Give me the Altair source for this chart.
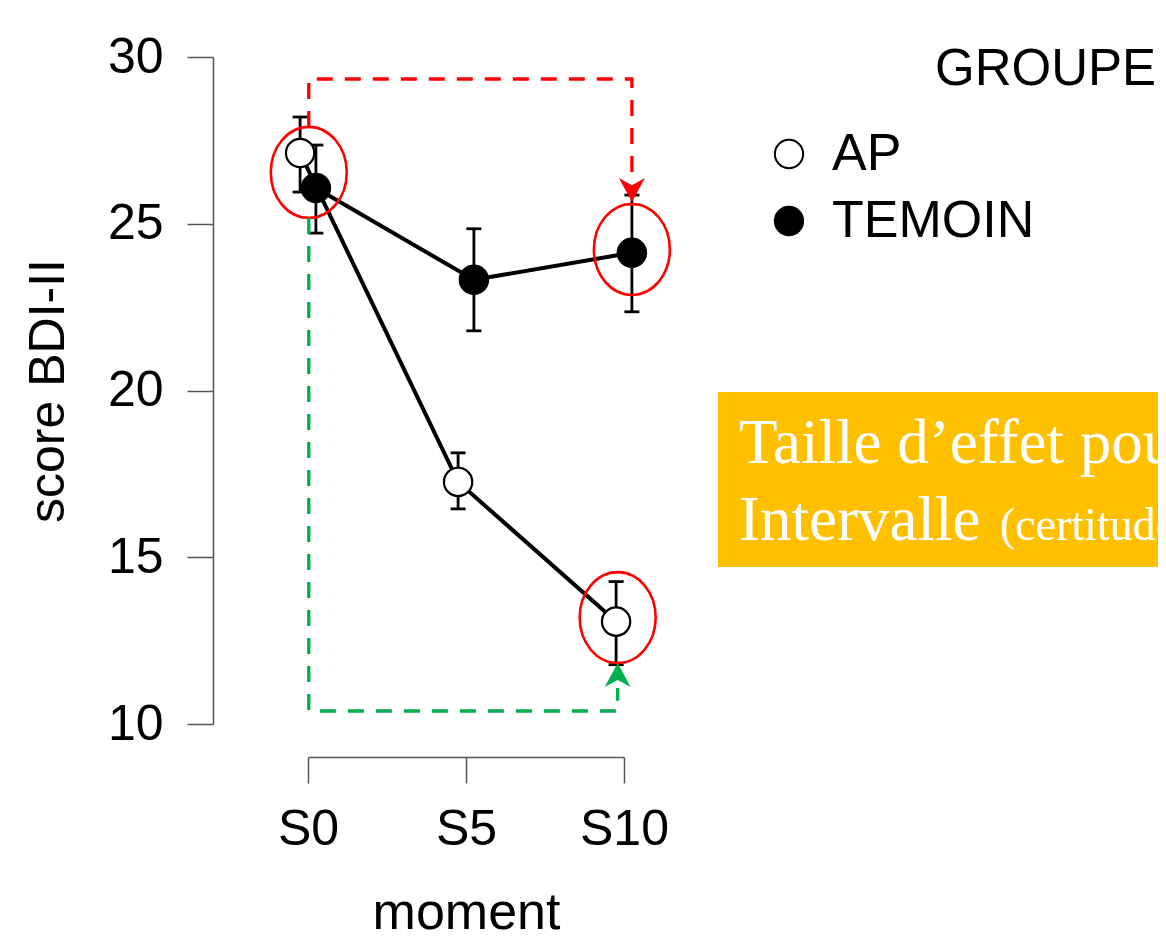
import json
import altair as alt
import pandas as pd

# ---------------- data ----------------
moments = ["S0", "S5", "S10"]
groups = ["AP", "TEMOIN"]
ap_mean = [27.12, 17.26, 13.07]
ap_low = [25.95, 16.45, 11.78]
ap_high = [28.20, 18.13, 14.27]
tem_mean = [26.07, 23.32, 24.13]
tem_low = [24.72, 21.79, 22.36]
tem_high = [27.36, 24.85, 25.86]
group_dodge = [-0.05, 0.05]
y_ticks = [10, 15, 20, 25, 30]

# annotations (data coordinates)
ellipse_x = [0.005, 2.05, 1.96]
ellipse_y = [26.54, 24.23, 13.19]
red_x = [0.005, 0.005, 2.05, 2.05]
red_y = [27.90, 29.34, 29.34, 26.37]
green_x = [0.005, 0.005, 1.96, 1.96]
green_y = [25.17, 10.39, 10.39, 11.08]
arrow_red = (2.05, 26.04)
arrow_green = (1.96, 11.44)

legend_title = "GROUPE"
box_line1 = "Taille d’effet pou"
box_line2a = "Intervalle"
box_line2b = "(certitude"

# ---------------- tables ----------------
rows = []
for g, d, means, lows, highs in [
    (groups[0], group_dodge[0], ap_mean, ap_low, ap_high),
    (groups[1], group_dodge[1], tem_mean, tem_low, tem_high),
]:
    for i, m in enumerate(moments):
        rows.append({"group": g, "moment": m, "x": i + d,
                     "y": means[i], "y2": lows[i], "hi": highs[i]})
df = pd.DataFrame(rows)
caps = pd.concat([
    df[["group", "x", "y2"]].rename(columns={"y2": "y"}),
    df[["group", "x", "hi"]].rename(columns={"hi": "y"}),
])
bars = df.rename(columns={"y": "mean", "y2": "y"}).assign(y2=df["hi"])

ell = pd.DataFrame({"x": ellipse_x, "y": ellipse_y})
red = pd.DataFrame({"x": red_x, "y": red_y, "o": range(len(red_x))})
green = pd.DataFrame({"x": green_x, "y": green_y, "o": range(len(green_x))})

FONT = "Liberation Sans"
AXC = "#555555"

x_axis = alt.Axis(
    values=[0, 1, 2], labelExpr=f"{json.dumps(moments)}[datum.value]",
    title="moment", offset=33, tickSize=26, labelPadding=21,
    labelFontSize=50, titleFontSize=52, titlePadding=33,
    labelFont=FONT, titleFont=FONT, titleFontWeight="normal",
    labelColor="black", titleColor="black", domainColor=AXC, tickColor=AXC,
    domainWidth=1.5, tickWidth=1.5, grid=False, labelFlush=False,
    labelOverlap=False,
)
y_axis = alt.Axis(
    values=y_ticks, title="score BDI-II", offset=95, tickSize=26,
    labelPadding=24, labelFontSize=50, titleFontSize=50, titlePadding=34,
    labelFont=FONT, titleFont=FONT, titleFontWeight="normal",
    labelColor="black", titleColor="black", domainColor=AXC, tickColor=AXC,
    domainWidth=1.5, tickWidth=1.5, grid=False, labelOverlap=False,
)
xs = alt.Scale(domain=[0, 2], nice=False, zero=False)
ys = alt.Scale(domain=[10, 30], nice=False, zero=False)


def X():
    return alt.X("x:Q", scale=xs, axis=x_axis)


def Y():
    return alt.Y("y:Q", scale=ys, axis=y_axis)


err = alt.Chart(bars).mark_rule(color="black", strokeWidth=2.8).encode(
    x=X(), y=Y(), y2="y2:Q")
cap = alt.Chart(caps).mark_point(
    shape="M -1 0 L 1 0", size=225, filled=False, color="black",
    strokeWidth=2.8, opacity=1).encode(x=X(), y=Y())
lines = alt.Chart(df).mark_line(color="black", strokeWidth=4).encode(
    x=X(), y=Y(), detail="group:N", order="x:Q")
pts = alt.Chart(df).mark_point(
    filled=True, size=800, stroke="black", strokeWidth=2.2, opacity=1,
    shape="circle").encode(
    x=X(), y=Y(),
    fill=alt.Fill("group:N", scale=alt.Scale(domain=groups, range=["white", "black"]),
                  legend=alt.Legend(
                      orient="none", legendX=455, legendY=71, title=None,
                      symbolType="circle", symbolSize=800,
                      symbolStrokeColor="black", symbolStrokeWidth=2,
                      labelFont=FONT, labelFontSize=52, labelColor="black",
                      labelOffset=17, rowPadding=15, padding=0,
                      labelLimit=400)))

k = 0.5523
a = 38 / 45.5
ell_path = (f"M 0 -1 C {k*a:.4f} -1 {a:.4f} {-k:.4f} {a:.4f} 0 "
            f"C {a:.4f} {k:.4f} {k*a:.4f} 1 0 1 "
            f"C {-k*a:.4f} 1 {-a:.4f} {k:.4f} {-a:.4f} 0 "
            f"C {-a:.4f} {-k:.4f} {-k*a:.4f} -1 0 -1 Z")
ellipses = alt.Chart(ell).mark_point(
    shape=ell_path, size=91 * 91, filled=False, color="#FF0000",
    strokeWidth=2.6, opacity=1).encode(x=X(), y=Y())

red_line = alt.Chart(red).mark_line(
    color="#FF0000", strokeWidth=3.3, strokeDash=[16, 12],
    strokeJoin="miter").encode(x=X(), y=Y(), order="o:Q")
green_line = alt.Chart(green).mark_line(
    color="#00B050", strokeWidth=3.3, strokeDash=[16, 12],
    strokeJoin="miter").encode(x=X(), y=Y(), order="o:Q")

arrow_down = "M 0 1 L -1 -0.85 L 0 -0.3 L 1 -0.85 Z"
arrow_up = "M 0 -1 L -1 0.85 L 0 0.3 L 1 0.85 Z"
red_arrow = alt.Chart(pd.DataFrame({"x": [arrow_red[0]], "y": [arrow_red[1]]})).mark_point(
    shape=arrow_down, size=676, filled=True, color="#FF0000", opacity=1,
    strokeWidth=0).encode(x=X(), y=Y())
green_arrow = alt.Chart(pd.DataFrame({"x": [arrow_green[0]], "y": [arrow_green[1]]})).mark_point(
    shape=arrow_up, size=676, filled=True, color="#00B050", opacity=1,
    strokeWidth=0).encode(x=X(), y=Y())

one = pd.DataFrame({"t": [0]})
box = alt.Chart(one).mark_rect(color="#FFC000").encode(
    x=alt.value(410), x2=alt.value(900), y=alt.value(335), y2=alt.value(510))
t1 = alt.Chart(pd.DataFrame({"t": [box_line1]})).mark_text(
    align="left", baseline="alphabetic", font="Liberation Serif", fontSize=63,
    color="white").encode(x=alt.value(431), y=alt.value(406), text="t:N")
t2 = alt.Chart(pd.DataFrame({"t": [box_line2a]})).mark_text(
    align="left", baseline="alphabetic", font="Liberation Serif", fontSize=63,
    color="white").encode(x=alt.value(431), y=alt.value(483), text="t:N")
t3 = alt.Chart(pd.DataFrame({"t": [box_line2b]})).mark_text(
    align="left", baseline="alphabetic", font="Liberation Serif", fontSize=46,
    color="white").encode(x=alt.value(692), y=alt.value(483), text="t:N")
gtitle = alt.Chart(pd.DataFrame({"t": [legend_title]})).mark_text(
    align="left", baseline="alphabetic", font=FONT, fontSize=51,
    color="black").encode(x=alt.value(627), y=alt.value(28), text="t:N")

chart = alt.layer(
    err, cap, lines, pts, ellipses, red_line, green_line, red_arrow,
    green_arrow, box, t1, t2, t3, gtitle
).properties(
    width=316, height=667,
    autosize=alt.AutoSizeParams(type="none"),
    padding={"left": 300, "top": 49, "right": 534, "bottom": 219},
    background="white",
).configure_view(stroke=None)

chart.save("out.html", embed_options={"renderer": "svg", "actions": False})
